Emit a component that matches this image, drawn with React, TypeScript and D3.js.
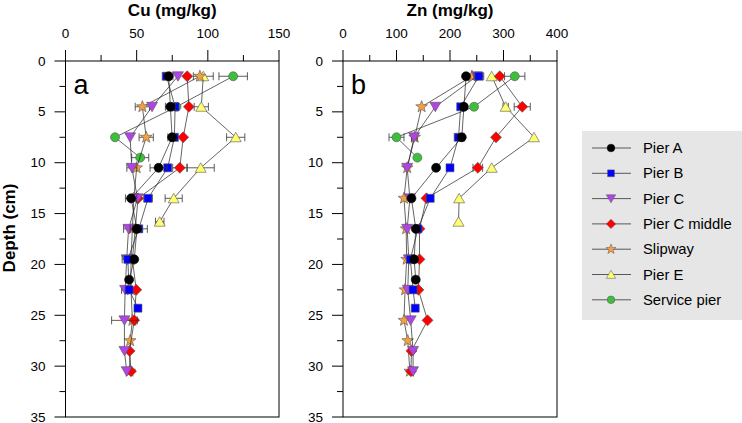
import React from "react";
import * as d3 from "d3";

const seriesNames = ["Pier A", "Pier B", "Pier C", "Pier C middle", "Slipway", "Pier E", "Service pier"];
const seriesColors = ["#000000", "#0000ff", "#b044e8", "#ff0000", "#f4a040", "#ffff70", "#3cc03c"];
const seriesShapes = ["circle", "square", "triDown", "diamond", "star", "triUp", "circle"];

const depthsPierA = [1.5, 4.5, 7.5, 10.5, 13.5, 16.5, 19.5, 21.5];
const cuPierA = [72.5, 73.7, 74.9, 65.4, 46.1, 50.2, 48.3, 44.7];
const znPierA = [230, 226, 222, 174, 128, 136, 133, 136];
const cuErrPierA = [3, 3.5, 3, 6, 4, 3, 0, 0];
const znErrPierA = [0, 0, 5, 0, 0, 0, 0, 0];

const depthsPierB = [1.5, 4.5, 7.5, 10.5, 13.5, 16.5, 19.5, 22.5, 24.3];
const cuPierB = [71, 77, 76.5, 71.8, 58, 51.5, 43.8, 44.7, 50.9];
const znPierB = [254, 220, 216, 200, 163, 140, 126, 131, 135];
const cuErrPierB = [3, 0, 0, 0, 3, 6, 4, 0, 0];
const znErrPierB = [9, 0, 8, 0, 0, 0, 0, 0, 0];

const depthsPierC = [1.5, 4.5, 7.5, 10.5, 13.5, 16.5, 19.5, 22.5, 25.5, 28.5, 30.5];
const cuPierC = [79, 60.8, 45.4, 46.6, 50.6, 44.3, 43, 41.9, 41.4, 41.4, 43];
const znPierC = [250, 172.6, 133, 120, 125, 120, 123, 121, 126.5, 131, 131];
const cuErrPierC = [0, 0, 0, 3.5, 0, 3.5, 0, 2.5, 9, 0, 0];
const znErrPierC = [0, 0, 5, 0, 0, 0, 0, 0, 0, 0, 0];

const depthsPierCMiddle = [1.5, 4.5, 7.5, 10.5, 13.5, 16.5, 19.5, 22.5, 25.5, 28.5, 30.5];
const cuPierCMiddle = [85.5, 86.7, 82.7, 80.3, 51, 49, 47, 49.7, 48.3, 45, 46];
const znPierCMiddle = [293, 335, 286, 252, 156, 143, 143, 141, 158, 128, 127];
const cuErrPierCMiddle = [0, 0, 0, 5, 0, 0, 0, 0, 0, 0, 0];
const znErrPierCMiddle = [0, 15, 0, 9, 0, 0, 0, 0, 0, 0, 0];

const depthsSlipway = [1.5, 4.5, 7.5, 10.5, 13.5, 16.5, 19.5, 22.5, 25.5, 27.5, 30.5];
const cuSlipway = [94.4, 54, 56.7, 50, 48, 47, 46, 46, 47, 45.4, 45];
const znSlipway = [241, 147, 134, 120, 114, 118, 119, 116, 114, 121, 125];
const cuErrSlipway = [0, 5, 5, 0, 0, 0, 0, 0, 0, 0, 0];
const znErrSlipway = [0, 0, 5, 0, 0, 0, 0, 0, 0, 0, 0];

const depthsPierE = [1.5, 4.5, 7.5, 10.5, 13.5, 15.8];
const cuPierE = [96.8, 95.4, 119.6, 95, 76, 66.2];
const znPierE = [278, 304, 357, 278, 217, 216];
const cuErrPierE = [7, 5, 6.4, 9.5, 6, 3];
const znErrPierE = [0, 5, 0, 0, 0, 0];

const depthsService = [1.5, 4.5, 7.5, 9.5];
const cuService = [117.8, 78, 34.8, 52.5];
const znService = [321, 245, 100, 139];
const cuErrService = [10, 0, 0, 6];
const znErrService = [19, 0, 14, 0];

const seriesDepths = [depthsPierA, depthsPierB, depthsPierC, depthsPierCMiddle, depthsSlipway, depthsPierE, depthsService];
const seriesCu = [cuPierA, cuPierB, cuPierC, cuPierCMiddle, cuSlipway, cuPierE, cuService];
const seriesZn = [znPierA, znPierB, znPierC, znPierCMiddle, znSlipway, znPierE, znService];
const seriesCuErr = [cuErrPierA, cuErrPierB, cuErrPierC, cuErrPierCMiddle, cuErrSlipway, cuErrPierE, cuErrService];
const seriesZnErr = [znErrPierA, znErrPierB, znErrPierC, znErrPierCMiddle, znErrSlipway, znErrPierE, znErrService];

const cuTicks = [0, 50, 100, 150];
const znTicks = [0, 100, 200, 300, 400];
const depthTicks = [0, 5, 10, 15, 20, 25, 30, 35];

const FONT = "Liberation Sans, Arial, sans-serif";

function markerPath(shape: string): string {
  switch (shape) {
    case "circle":
      return "M4.5,0A4.5,4.5 0 1,1 -4.5,0A4.5,4.5 0 1,1 4.5,0Z";
    case "square":
      return "M-4,-4L4,-4L4,4L-4,4Z";
    case "triDown":
      return "M-5.5,-4.5L5.5,-4.5L0,5Z";
    case "triUp":
      return "M-5.5,4.5L5.5,4.5L0,-5Z";
    case "diamond":
      return "M0,-5.5L5.5,0L0,5.5L-5.5,0Z";
    case "star": {
      const pts: string[] = [];
      for (let i = 0; i < 10; i++) {
        const r = i % 2 === 0 ? 6.2 : 2.6;
        const a = -Math.PI / 2 + (i * Math.PI) / 5;
        pts.push(`${(r * Math.cos(a)).toFixed(2)},${(r * Math.sin(a)).toFixed(2)}`);
      }
      return "M" + pts.join("L") + "Z";
    }
  }
  return "";
}

type PanelProps = {
  x0: number;
  x1: number;
  domainMax: number;
  ticks: number[];
  minorStep: number;
  values: number[][];
  errors: number[][];
  title: string;
  letter: string;
};

const Y0 = 61;
const Y1 = 417;
const yScale = d3.scaleLinear().domain([0, 35]).range([Y0, Y1]);

function Panel({ x0, x1, domainMax, ticks, minorStep, values, errors, title, letter }: PanelProps) {
  const x = d3.scaleLinear().domain([0, domainMax]).range([x0, x1]);
  const minorX = d3.range(0, domainMax + 0.001, minorStep).filter((v) => !ticks.includes(v));
  const minorY = d3.range(2.5, 35, 5);
  const order = d3.range(seriesNames.length).reverse();
  return (
    <g>
      <text x={(x0 + x1) / 2} y={16} textAnchor="middle" fontFamily={FONT} fontWeight="bold" fontSize={17}>
        {title}
      </text>
      {ticks.map((t) => (
        <g key={"xt" + t}>
          <line x1={x(t)} x2={x(t)} y1={Y0 - 11} y2={Y0} stroke="#000" strokeWidth={1} />
          <text x={x(t)} y={38} textAnchor="middle" fontFamily={FONT} fontSize={13.5}>
            {t}
          </text>
        </g>
      ))}
      {minorX.map((t) => (
        <line key={"xm" + t} x1={x(t)} x2={x(t)} y1={Y0 - 6} y2={Y0} stroke="#000" strokeWidth={1} />
      ))}
      {depthTicks.map((t) => (
        <g key={"yt" + t}>
          <line x1={x0 - 11} x2={x0} y1={yScale(t)} y2={yScale(t)} stroke="#000" strokeWidth={1} />
          <text x={x0 - 20} y={yScale(t) + 4.5} textAnchor="end" fontFamily={FONT} fontSize={13.5}>
            {t}
          </text>
        </g>
      ))}
      {minorY.map((t) => (
        <line key={"ym" + t} x1={x0 - 6} x2={x0} y1={yScale(t)} y2={yScale(t)} stroke="#000" strokeWidth={1} />
      ))}
      <rect x={x0} y={Y0} width={x1 - x0} height={Y1 - Y0} fill="none" stroke="#000" strokeWidth={1} />
      <text x={x0 + 8} y={Y0 + 33} fontFamily={FONT} fontSize={27}>
        {letter}
      </text>
      {order.map((si) => {
        const depths = seriesDepths[si];
        const vals = values[si];
        const errs = errors[si];
        const pts: [number, number][] = depths.map((dv, i) => [x(vals[i]), yScale(dv)]);
        const line = d3.line()(pts) || "";
        return (
          <g key={"s" + si}>
            <path d={line} fill="none" stroke="#222" strokeWidth={0.7} />
            {depths.map((dv, i) =>
              errs[i] > 0 ? (
                <g key={"e" + i} stroke="#333" strokeWidth={0.8}>
                  <line x1={x(vals[i] - errs[i])} x2={x(vals[i] + errs[i])} y1={yScale(dv)} y2={yScale(dv)} />
                  <line x1={x(vals[i] - errs[i])} x2={x(vals[i] - errs[i])} y1={yScale(dv) - 4} y2={yScale(dv) + 4} />
                  <line x1={x(vals[i] + errs[i])} x2={x(vals[i] + errs[i])} y1={yScale(dv) - 4} y2={yScale(dv) + 4} />
                </g>
              ) : null
            )}
            {pts.map((p, i) => (
              <path
                key={"m" + i}
                d={markerPath(seriesShapes[si])}
                transform={`translate(${p[0]},${p[1]})`}
                fill={seriesColors[si]}
                stroke={si === 0 ? "#000" : "#555"}
                strokeWidth={0.6}
              />
            ))}
          </g>
        );
      })}
    </g>
  );
}

export default function App() {
  return (
    <svg width={742} height={423} style={{ position: "absolute", left: 0, top: 0, background: "#fff" }}>
      <rect x={0} y={0} width={742} height={423} fill="#fff" />
      <text
        transform={`translate(15,228) rotate(-90)`}
        textAnchor="middle"
        fontFamily={FONT}
        fontWeight="bold"
        fontSize={17}
      >
        Depth (cm)
      </text>
      <Panel
        x0={65.5}
        x1={279}
        domainMax={150}
        ticks={cuTicks}
        minorStep={25}
        values={seriesCu}
        errors={seriesCuErr}
        title="Cu (mg/kg)"
        letter="a"
      />
      <Panel
        x0={343}
        x1={557}
        domainMax={400}
        ticks={znTicks}
        minorStep={50}
        values={seriesZn}
        errors={seriesZnErr}
        title="Zn (mg/kg)"
        letter="b"
      />
      <rect x={582} y={131} width={160} height={189} fill="#e6e6e6" />
      {seriesNames.map((name, i) => {
        const yy = 148 + i * 25.3;
        return (
          <g key={"lg" + i}>
            <line x1={592} x2={631} y1={yy} y2={yy} stroke="#333" strokeWidth={0.8} />
            <path
              d={markerPath(seriesShapes[i])}
              transform={`translate(611,${yy}) scale(0.85)`}
              fill={seriesColors[i]}
              stroke={i === 0 ? "#000" : "#555"}
              strokeWidth={0.6}
            />
            <text x={643} y={yy + 5} fontFamily={FONT} fontSize={14.8}>
              {name}
            </text>
          </g>
        );
      })}
    </svg>
  );
}
